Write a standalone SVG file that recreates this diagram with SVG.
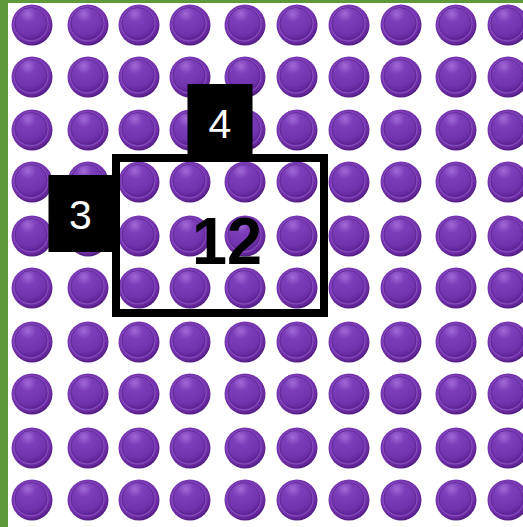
<svg xmlns="http://www.w3.org/2000/svg" xmlns:xlink="http://www.w3.org/1999/xlink" width="523" height="527" viewBox="0 0 523 527">
  <defs>
    <style>
      .lbl { font-family: "Liberation Sans", Arial, sans-serif; fill: #ffffff; font-size: 41px; text-anchor: middle; }
      .big { font-family: "Liberation Sans", Arial, sans-serif; fill: #000000; font-size: 67px; font-weight: bold; text-anchor: middle; }
    </style>
    <radialGradient id="rim" cx="0.45" cy="0.4" r="0.6">
      <stop offset="0.75" stop-color="#7535b0"/>
      <stop offset="0.9" stop-color="#652799"/>
      <stop offset="1" stop-color="#4e1c80"/>
    </radialGradient>
    <radialGradient id="face" cx="0.4" cy="0.2" r="0.85">
      <stop offset="0" stop-color="#a06ad6"/>
      <stop offset="0.3" stop-color="#7c3eba"/>
      <stop offset="0.75" stop-color="#7233ae"/>
      <stop offset="1" stop-color="#5a2293"/>
    </radialGradient>
    <g id="bead">
      <circle r="20.5" fill="url(#rim)"/>
      <circle cx="-1" cy="-1" r="17" fill="none" stroke="#8a52c4" stroke-width="1"/>
      <circle cx="-1" cy="-1.5" r="16" fill="url(#face)" stroke="#551f8b" stroke-opacity="0.6" stroke-width="1"/>
    </g>
  </defs>
  <rect x="0" y="0" width="523" height="527" fill="#ffffff"/>
  <rect x="0" y="0" width="523" height="3" fill="#5f9a3a"/>
  <rect x="0" y="0" width="8" height="527" fill="#5f9a3a"/>
  <g id="beads">
    <g id="row1" transform="translate(0,25)">
      <use xlink:href="#bead" x="32"/><use xlink:href="#bead" x="88"/><use xlink:href="#bead" x="139"/><use xlink:href="#bead" x="190"/><use xlink:href="#bead" x="245"/><use xlink:href="#bead" x="297"/><use xlink:href="#bead" x="349"/><use xlink:href="#bead" x="401"/><use xlink:href="#bead" x="456"/><use xlink:href="#bead" x="508"/>
    </g>
    <g id="row2" transform="translate(0,77)">
      <use xlink:href="#bead" x="32"/><use xlink:href="#bead" x="88"/><use xlink:href="#bead" x="139"/><use xlink:href="#bead" x="190"/><use xlink:href="#bead" x="245"/><use xlink:href="#bead" x="297"/><use xlink:href="#bead" x="349"/><use xlink:href="#bead" x="401"/><use xlink:href="#bead" x="456"/><use xlink:href="#bead" x="508"/>
    </g>
    <g id="row3" transform="translate(0,130)">
      <use xlink:href="#bead" x="32"/><use xlink:href="#bead" x="88"/><use xlink:href="#bead" x="139"/><use xlink:href="#bead" x="190"/><use xlink:href="#bead" x="245"/><use xlink:href="#bead" x="297"/><use xlink:href="#bead" x="349"/><use xlink:href="#bead" x="401"/><use xlink:href="#bead" x="456"/><use xlink:href="#bead" x="508"/>
    </g>
    <g id="row4" transform="translate(0,182)">
      <use xlink:href="#bead" x="32"/><use xlink:href="#bead" x="88"/><use xlink:href="#bead" x="139"/><use xlink:href="#bead" x="190"/><use xlink:href="#bead" x="245"/><use xlink:href="#bead" x="297"/><use xlink:href="#bead" x="349"/><use xlink:href="#bead" x="401"/><use xlink:href="#bead" x="456"/><use xlink:href="#bead" x="508"/>
    </g>
    <g id="row5" transform="translate(0,236)">
      <use xlink:href="#bead" x="32"/><use xlink:href="#bead" x="88"/><use xlink:href="#bead" x="139"/><use xlink:href="#bead" x="190"/><use xlink:href="#bead" x="245"/><use xlink:href="#bead" x="297"/><use xlink:href="#bead" x="349"/><use xlink:href="#bead" x="401"/><use xlink:href="#bead" x="456"/><use xlink:href="#bead" x="508"/>
    </g>
    <g id="row6" transform="translate(0,288)">
      <use xlink:href="#bead" x="32"/><use xlink:href="#bead" x="88"/><use xlink:href="#bead" x="139"/><use xlink:href="#bead" x="190"/><use xlink:href="#bead" x="245"/><use xlink:href="#bead" x="297"/><use xlink:href="#bead" x="349"/><use xlink:href="#bead" x="401"/><use xlink:href="#bead" x="456"/><use xlink:href="#bead" x="508"/>
    </g>
    <g id="row7" transform="translate(0,342)">
      <use xlink:href="#bead" x="32"/><use xlink:href="#bead" x="88"/><use xlink:href="#bead" x="139"/><use xlink:href="#bead" x="190"/><use xlink:href="#bead" x="245"/><use xlink:href="#bead" x="297"/><use xlink:href="#bead" x="349"/><use xlink:href="#bead" x="401"/><use xlink:href="#bead" x="456"/><use xlink:href="#bead" x="508"/>
    </g>
    <g id="row8" transform="translate(0,394)">
      <use xlink:href="#bead" x="32"/><use xlink:href="#bead" x="88"/><use xlink:href="#bead" x="139"/><use xlink:href="#bead" x="190"/><use xlink:href="#bead" x="245"/><use xlink:href="#bead" x="297"/><use xlink:href="#bead" x="349"/><use xlink:href="#bead" x="401"/><use xlink:href="#bead" x="456"/><use xlink:href="#bead" x="508"/>
    </g>
    <g id="row9" transform="translate(0,448)">
      <use xlink:href="#bead" x="32"/><use xlink:href="#bead" x="88"/><use xlink:href="#bead" x="139"/><use xlink:href="#bead" x="190"/><use xlink:href="#bead" x="245"/><use xlink:href="#bead" x="297"/><use xlink:href="#bead" x="349"/><use xlink:href="#bead" x="401"/><use xlink:href="#bead" x="456"/><use xlink:href="#bead" x="508"/>
    </g>
    <g id="row10" transform="translate(0,500)">
      <use xlink:href="#bead" x="32"/><use xlink:href="#bead" x="88"/><use xlink:href="#bead" x="139"/><use xlink:href="#bead" x="190"/><use xlink:href="#bead" x="245"/><use xlink:href="#bead" x="297"/><use xlink:href="#bead" x="349"/><use xlink:href="#bead" x="401"/><use xlink:href="#bead" x="456"/><use xlink:href="#bead" x="508"/>
    </g>
  </g>
  <g id="area-box">
    <rect x="116" y="158" width="208" height="155" fill="none" stroke="#000000" stroke-width="8"/>
    <text class="big" x="227" y="264" textLength="70" lengthAdjust="spacingAndGlyphs">12</text>
  </g>
  <g id="label-4">
    <rect x="187.5" y="84" width="65" height="74" fill="#000000"/>
    <text class="lbl" x="220" y="138">4</text>
  </g>
  <g id="label-3">
    <rect x="48.5" y="175" width="67.5" height="77" fill="#000000"/>
    <text class="lbl" x="80.5" y="228.5">3</text>
  </g>
</svg>
